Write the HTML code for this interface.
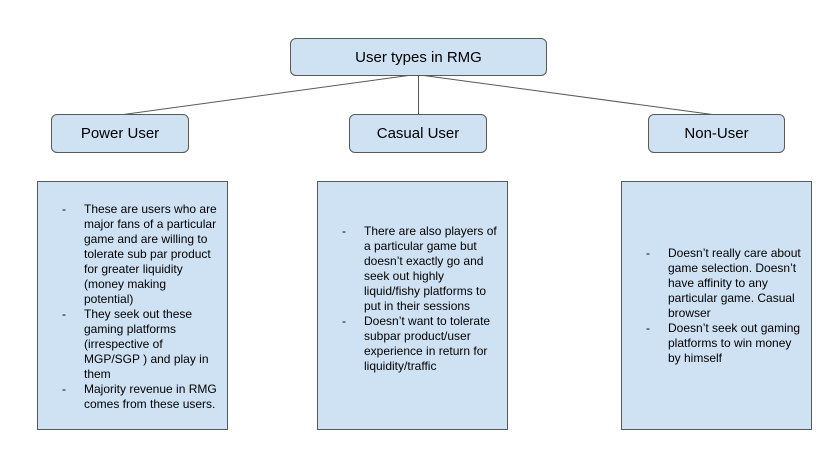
<!DOCTYPE html>
<html><head><style>
body{margin:0;width:826px;height:449px;background:#fff;position:relative;overflow:hidden;font-family:"Liberation Sans",Arial,sans-serif;color:#000}
.b{position:absolute;background:#cfe2f3;border:1px solid #595959;box-sizing:border-box}
.h{border-radius:6px;font-size:15px;display:flex;align-items:center;justify-content:center}
.t{position:absolute;font-size:12px;line-height:15px}
.t div{position:relative;padding-left:22px}
.t div:before{content:"-";position:absolute;left:0}
</style></head><body>
<svg width="826" height="449" style="position:absolute;left:0;top:0">
<g stroke="#595959" stroke-width="1" fill="none">
<line x1="412" y1="75" x2="120" y2="115"/>
<line x1="418.5" y1="75" x2="418.5" y2="115"/>
<line x1="420" y1="75" x2="716" y2="115"/>
</g></svg>
<div class="b h" style="left:290px;top:38px;width:257px;height:38px">User types in RMG</div>
<div class="b h" style="left:51px;top:114px;width:138px;height:39px">Power User</div>
<div class="b h" style="left:349px;top:114px;width:138px;height:39px">Casual User</div>
<div class="b h" style="left:648px;top:114px;width:137px;height:39px">Non-User</div>
<div class="b" style="left:37px;top:181px;width:191px;height:249px"></div>
<div class="b" style="left:317px;top:181px;width:191px;height:249px"></div>
<div class="b" style="left:621px;top:181px;width:191px;height:249px"></div>
<div class="t" style="left:62px;top:202px;width:157px">
<div>These are users who are major fans of a particular game and are willing to tolerate sub par product for greater liquidity (money making<br>potential)</div>
<div>They seek out these gaming platforms (irrespective of MGP/SGP ) and play in them</div>
<div>Majority revenue in RMG comes from these users.</div>
</div>
<div class="t" style="left:342px;top:224px;width:157px">
<div>There are also players of a particular game but doesn’t exactly go and seek out highly liquid/fishy platforms to put in their sessions</div>
<div>Doesn’t want to tolerate subpar product/user experience in return for liquidity/traffic</div>
</div>
<div class="t" style="left:646px;top:246px;width:157px">
<div>Doesn’t really care about game selection. Doesn’t have affinity to any particular game. Casual browser</div>
<div>Doesn’t seek out gaming platforms to win money by himself</div>
</div>
</body></html>
